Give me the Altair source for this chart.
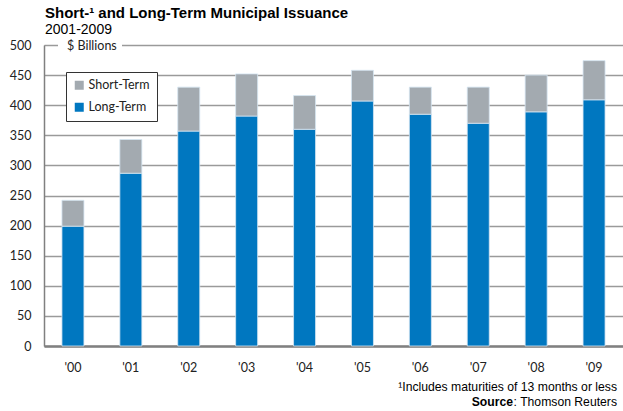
import altair as alt
import pandas as pd

years = ["'00", "'01", "'02", "'03", "'04", "'05", "'06", "'07", "'08", "'09"]
long_term = [199, 287, 357, 382, 360, 407, 385, 370, 389, 409]
total = [242, 343, 430, 452, 416, 458, 430, 430, 450, 474]
short_term = [t - l for t, l in zip(total, long_term)]
series = ["Short-Term", "Long-Term"]
colors = ["#A3AAB0", "#0077C0"]

rows = []
for y, l, s in zip(years, long_term, short_term):
    rows.append({"year": y, "series": "Long-Term", "value": l, "ord": 0})
    rows.append({"year": y, "series": "Short-Term", "value": s, "ord": 1})
df = pd.DataFrame(rows)

FONT = "Lato"

bars = alt.Chart(df).mark_bar(stroke="#d6e6f2", strokeWidth=0.8).encode(
    x=alt.X("year:N", sort=years, title=None,
            scale=alt.Scale(paddingInner=0.62, paddingOuter=0.31),
            axis=alt.Axis(labelAngle=0, labelFont=FONT, labelFontSize=12.5, labelColor="#222",
                          ticks=False, labelPadding=15, domainColor="#808080", domainWidth=2.5,
                          grid=False)),
    y=alt.Y("value:Q", stack="zero", title=None,
            scale=alt.Scale(domain=[0, 500], nice=False),
            axis=alt.Axis(values=list(range(0, 501, 50)), labelFont=FONT, labelFontSize=12.5,
                          labelColor="#222", ticks=False, labelPadding=13,
                          domainColor="#808080", domainWidth=1.5,
                          gridColor="#9a9a9a", gridWidth=1.3)),
    color=alt.Color("series:N", scale=alt.Scale(domain=series, range=colors),
                    legend=alt.Legend(title=None, orient="none", legendX=22, legendY=27,
                                      symbolType="square", symbolSize=81, symbolStrokeWidth=0,
                                      labelFont=FONT, labelFontSize=12.5, labelColor="#222",
                                      strokeColor="#333", padding=7, rowPadding=9,
                                      labelOffset=3, fillColor="white")),
    order=alt.Order("ord:Q"),
)

one = pd.DataFrame([{"a": 1}])

billions_bg = alt.Chart(one).mark_rect(color="white").encode(
    x=alt.value(14), x2=alt.value(78), y=alt.value(-6), y2=alt.value(6)
)
billions = alt.Chart(one).mark_text(text="$ Billions", font=FONT, fontSize=12.5, color="#222",
                                    align="left", baseline="middle").encode(
    x=alt.value(23), y=alt.value(1)
)
title = alt.Chart(one).mark_text(text="Short-\u00b9 and Long-Term Municipal Issuance",
                                 font="Liberation Sans", fontSize=15, fontWeight="bold",
                                 color="#000", align="left", baseline="alphabetic").encode(
    x=alt.value(1), y=alt.value(-27)
)
subtitle = alt.Chart(one).mark_text(text="2001-2009", font="Liberation Sans", fontSize=14,
                                    color="#000", align="left", baseline="alphabetic").encode(
    x=alt.value(1), y=alt.value(-11)
)
foot1 = alt.Chart(one).mark_text(text="\u00b9Includes maturities of 13 months or less",
                                 font="Liberation Sans", fontSize=12.2, color="#000",
                                 align="right", baseline="middle").encode(
    x=alt.value(573), y=alt.value(342)
)
foot2a = alt.Chart(one).mark_text(text=": Thomson Reuters", font="Liberation Sans", fontSize=12.2,
                                  color="#000", align="right", baseline="middle").encode(
    x=alt.value(573), y=alt.value(357)
)
foot2b = alt.Chart(one).mark_text(text="Source", font="Liberation Sans", fontSize=12.2,
                                  fontWeight="bold", color="#000", align="right",
                                  baseline="middle").encode(
    x=alt.value(469), y=alt.value(357)
)

chart = alt.layer(bars, billions_bg, billions, title, subtitle, foot1, foot2a, foot2b).properties(
    width=579, height=301,
    autosize=alt.AutoSizeParams(type="none"),
    padding={"left": 44, "top": 45, "right": 0, "bottom": 65},
).configure_view(stroke=None).configure(background="white")

chart.save("out.html", embed_options={"renderer": "svg", "actions": False})
